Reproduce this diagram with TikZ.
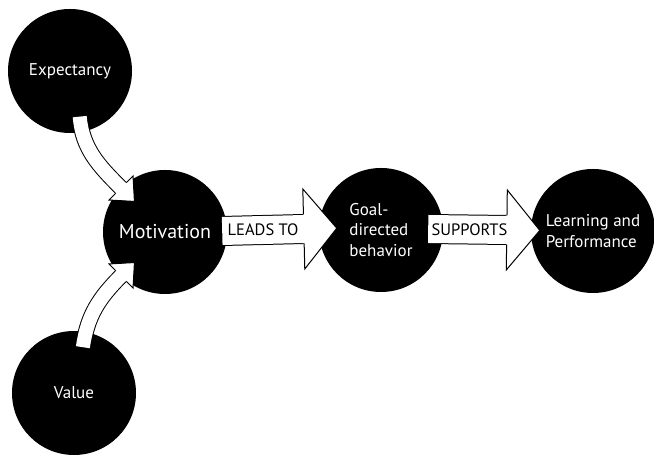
\documentclass[tikz,border=0pt]{standalone}
\usepackage{fontspec}
\setmainfont{PT Sans}
\usetikzlibrary{positioning,calc,decorations.markings}

\tikzset{
  blob/.style={circle, fill=black, minimum size=124pt, inner sep=0pt, text=white,
    align=left, font=\fontsize{17}{20.5}\selectfont},
  tag/.style={text=black, inner sep=0pt, font=\fontsize{16.5}{20}\selectfont},
  % curved arrows into motivation
  bentarrow/.style={draw=black, line width=1pt, double=white, double distance=14pt,
    postaction={decorate}, decoration={markings, mark=at position 1 with {
      \fill[white] (-0.5pt,-17pt) -- (19pt,0pt) -- (-0.5pt,17pt) -- cycle;
      \draw[line width=1pt, line join=miter] (0pt,-7.5pt) -- (0pt,-17pt) -- (19pt,0pt) -- (0pt,17pt) -- (0pt,7.5pt);}}},
  % straight arrows with a word on them
  wordarrow/.style={draw=black, line width=1pt, double=white, double distance=28pt,
    postaction={decorate}, decoration={markings, mark=at position 1 with {
      \fill[white] (-0.5pt,-40pt) -- (33pt,0pt) -- (-0.5pt,40pt) -- cycle;
      \draw[line width=1pt, line join=miter] (0pt,-14.5pt) -- (0pt,-40pt) -- (33pt,0pt) -- (0pt,40pt) -- (0pt,14.5pt);}}},
}

\begin{document}
\begin{tikzpicture}[x=1pt, y=1pt]
\useasboundingbox (0,0) rectangle (654,457);

\node[blob] (exp) at (70,386) {Expectancy};
\node[blob] (mot) at (165,225) {\fontsize{20}{22}\selectfont Motivation};
\node[blob] (goal) at (381,227) {Goal-\\directed\\behavior};
\node[blob] (learn) at (593,226) {Learning and\\Performance};
\node[blob] (val) at (74,64) {Value};

\draw[bentarrow] ($(exp.center)!0.75!(exp.-78)$) to[out=-85, in=135] (mot.135);
\draw[bentarrow] ($(val.center)!0.75!(val.79)$) to[out=82, in=225] (mot.225);

\draw[wordarrow] ($(mot.east)+(-5,1)$) -- ($(goal.west)+(-15,1)$)
  node[tag, midway] (leads) {LEADS TO};
\draw[wordarrow] ($(goal.east)+(-15,1)$) -- ($(learn.west)+(-24,1)$)
  node[tag, midway, xshift=2pt] (supp) {SUPPORTS};
\end{tikzpicture}
\end{document}
